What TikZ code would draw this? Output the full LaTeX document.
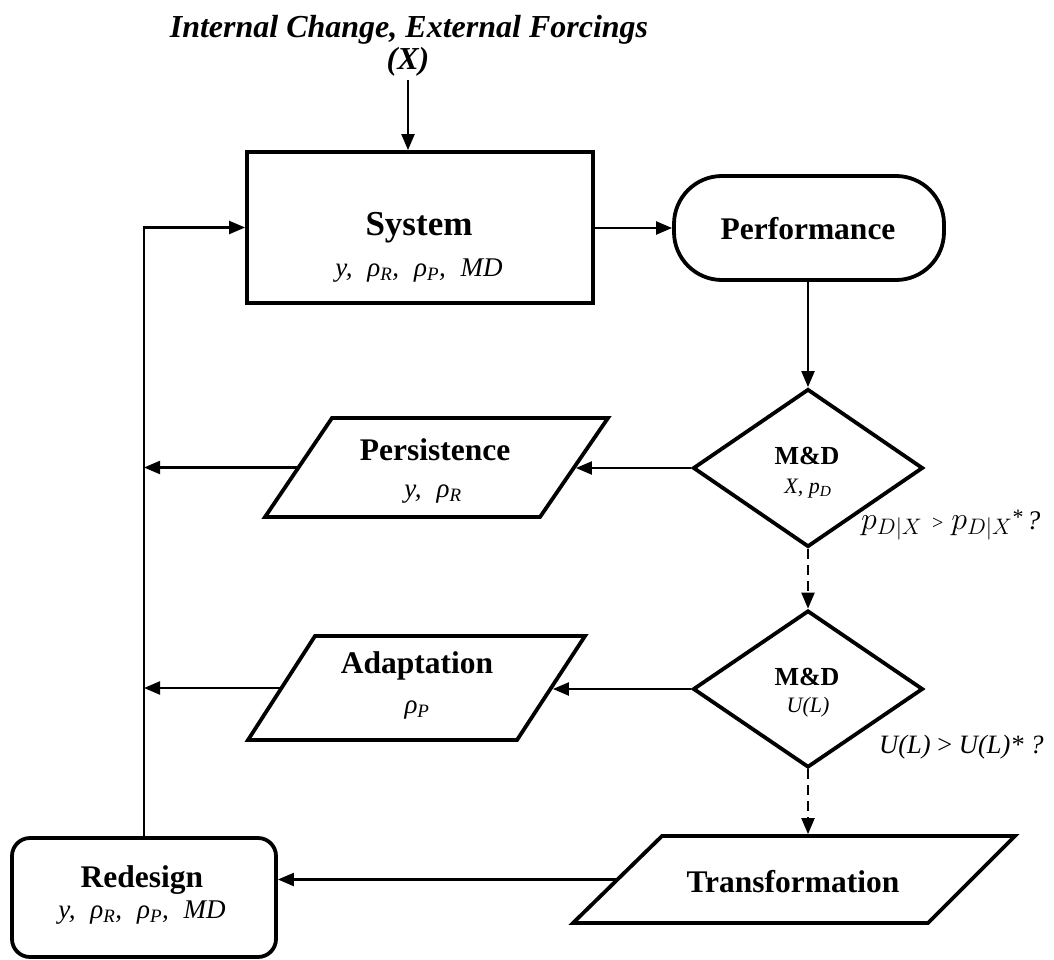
\RequirePackage{fix-cm}
\documentclass[tikz,border=0pt]{standalone}
\usepackage{fontspec}
\setmainfont{Liberation Serif}
\usetikzlibrary{shapes.geometric,arrows.meta,calc}
\newcommand\gapsp{\hspace{0.55em}}
\tikzset{
  shp/.style={draw, line width=3.8pt, inner sep=0pt, fill=white, line join=miter},
  boxshape/.style={shp, rectangle, minimum width=#1},
  dia/.style={shp, diamond, minimum width=230pt},
  arr/.style={line width=2.2pt, -{Triangle[length=16pt,width=13pt]}},
  darr/.style={arr, dash pattern=on 10pt off 6pt},
  ttl/.style={font=\bfseries\fontsize{31.5}{36}\selectfont, anchor=base, inner sep=0pt},
  subt/.style={font=\itshape\fontsize{27}{32}\selectfont, anchor=base, inner sep=0pt},
  mdt/.style={font=\bfseries\fontsize{26}{30}\selectfont, anchor=base, inner sep=0pt},
  mds/.style={font=\itshape\fontsize{22}{26}\selectfont, anchor=base, inner sep=0pt},
}
\begin{document}
\begin{tikzpicture}[x=1pt,y=-1pt]
\useasboundingbox (0,0) rectangle (1054,960);
% title
\node[font=\bfseries\itshape\fontsize{32}{36}\selectfont, anchor=base, inner sep=0pt] (title1) at (409,38) {Internal Change, External Forcings};
\node[font=\bfseries\itshape\fontsize{32}{36}\selectfont, anchor=base, inner sep=0pt] (title2) at (408,70) {(X)};
% shapes
\node[boxshape=346pt, minimum height=151pt] (sys) at (420,227.5) {};
\node[boxshape=270pt, minimum height=104pt, rounded corners=48pt] (perf) at (809,228) {};
\node[dia, minimum height=158pt] (d1) at (808,468) {};
\node[dia, minimum height=157pt] (d2) at (808,689) {};
\node[boxshape=264pt, minimum height=119pt, rounded corners=18pt] (red) at (144,897.5) {};
% parallelograms
\coordinate (persTL) at (332,418); \coordinate (persTR) at (608,418);
\coordinate (persBR) at (540,517); \coordinate (persBL) at (265,517);
\draw[shp] (persTL) -- (persTR) -- (persBR) -- (persBL) -- cycle;
\coordinate (persR) at ($(persTR)!0.5!(persBR)$);
\coordinate (persL) at ($(persTL)!0.5!(persBL)$);
\coordinate (adapTL) at (315,636); \coordinate (adapTR) at (585,636);
\coordinate (adapBR) at (517,740); \coordinate (adapBL) at (248,740);
\draw[shp] (adapTL) -- (adapTR) -- (adapBR) -- (adapBL) -- cycle;
\coordinate (adapR) at ($(adapTR)!0.5!(adapBR)$);
\coordinate (adapL) at ($(adapTL)!0.5!(adapBL)$);
\coordinate (transTL) at (662,836); \coordinate (transTR) at (1015,836);
\coordinate (transBR) at (928,923); \coordinate (transBL) at (573,923);
\draw[shp] (transTL) -- (transTR) -- (transBR) -- (transBL) -- cycle;
\coordinate (transL) at ($(transTL)!0.5!(transBL)$);
% texts
\node[ttl, font=\bfseries\fontsize{35}{40}\selectfont] (sysT) at (419,235) {System};
\node[subt] (sysS) at (419,276) {y,\gapsp ρ\textsubscript{R},\gapsp ρ\textsubscript{P},\gapsp MD};
\node[ttl] (perfT) at (808,239) {Performance};
\node[mdt] (d1T) at (807,464) {M\&D};
\node[mds] (d1S) at (808,493) {X, p\textsubscript{D}};
\node[mdt] (d2T) at (807,685) {M\&D};
\node[mds] (d2S) at (808,712) {U(L)};
\node[ttl] (persT) at (435,460) {Persistence};
\node[subt] (persS) at (433,497) {y,\gapsp ρ\textsubscript{R}};
\node[ttl] (adapT) at (417,673) {Adaptation};
\node[subt] (adapS) at (417,713) {ρ\textsubscript{P}};
\node[ttl] (transT) at (793,892) {Transformation};
\node[ttl] (redT) at (142,887) {Redesign};
\node[subt] (redS) at (142,918) {y,\gapsp ρ\textsubscript{R},\gapsp ρ\textsubscript{P},\gapsp MD};
\node[anchor=base west, inner sep=0pt, font=\fontsize{32}{36}\selectfont] (lab1) at (861,529) {$p_{D|X}$\hspace{0.3em}{\fontsize{20}{22}\selectfont >}\hspace{0.25em}$p_{D|X}$\raisebox{5pt}{\fontsize{22}{24}\selectfont *}\hspace{0.1em}{\fontsize{27}{30}\selectfont\itshape ?}};
\node[anchor=base west, inner sep=0pt, font=\itshape\fontsize{26.5}{30}\selectfont] (lab2) at (879,753) {U(L) \textup{>} U(L)* ?};
% connectors
\draw[arr, shorten <=3pt] (title2.south) -- (title2.south |- sys.north);
\draw[arr] (sys.east |- perf.west) -- (perf.west);
\draw[arr] (perf.south -| d1.north) -- (d1.north);
\draw[darr] (d1.south) -- (d2.north);
\draw[darr, shorten >=1.9pt] (d2.south) -- (d2.south |- transTL);
\draw[arr, shorten >=1.9pt] (d1.west) -- (d1.west -| persR);
\draw[arr, shorten >=1.9pt] (d2.west) -- (d2.west -| adapR);
\draw[arr, shorten <=1.9pt] (persL) -- (persL -| red.north);
\draw[arr, shorten <=1.9pt] (adapL) -- (adapL -| red.north);
\draw[arr, shorten <=1.9pt] (transL) -- (transL -| red.east);
\draw[arr] (red.north) |- (sys.west);
\end{tikzpicture}
\end{document}
